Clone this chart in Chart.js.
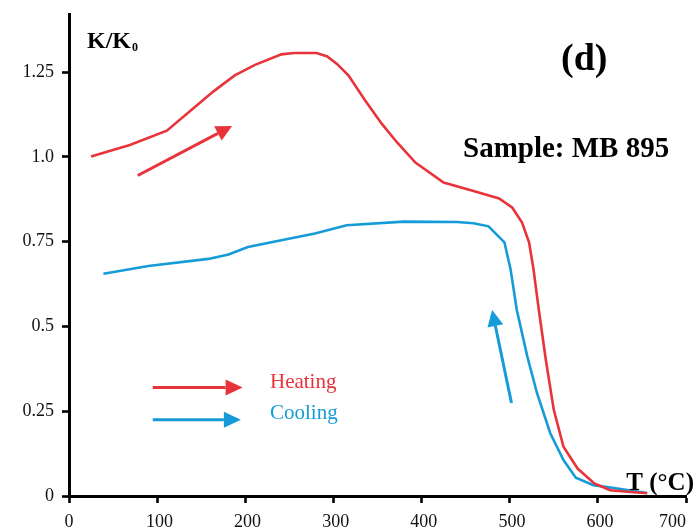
<!DOCTYPE html>
<html>
<head>
<meta charset="utf-8">
<script src="https://cdn.jsdelivr.net/npm/chart.js@4/dist/chart.umd.min.js"></script>
<style>
html,body{margin:0;padding:0;background:#fff;}
#wrap{width:697px;height:529px;}
</style>
</head>
<body>
<div id="wrap"><canvas id="c" width="697" height="529"></canvas></div>
<script>
// ---- data ----
const heatT = [25, 69, 111, 164, 188, 211, 241, 255, 281, 293, 304, 317, 336, 355, 372, 393, 425, 455, 488, 503, 514, 522, 527, 533, 541, 550, 561, 577, 596, 614, 637, 656];
const heatK = [1.001, 1.035, 1.077, 1.193, 1.240, 1.271, 1.302, 1.306, 1.306, 1.296, 1.274, 1.240, 1.166, 1.097, 1.043, 0.983, 0.924, 0.902, 0.877, 0.850, 0.806, 0.747, 0.668, 0.549, 0.401, 0.254, 0.145, 0.081, 0.037, 0.017, 0.012, 0.008];
const coolT = [39, 90, 158, 181, 203, 262, 279, 315, 380, 440, 459, 476, 494, 501, 508, 520, 531, 546, 561, 575, 595, 622, 656];
const coolK = [0.655, 0.678, 0.699, 0.712, 0.734, 0.765, 0.774, 0.798, 0.809, 0.808, 0.804, 0.795, 0.748, 0.668, 0.549, 0.411, 0.303, 0.185, 0.106, 0.054, 0.032, 0.022, 0.009];
const xTicks = [0, 100, 200, 300, 400, 500, 600, 700];
const xTickLabels = ["0", " 100", " 200", " 300", " 400", " 500", " 600", "700      "];
const yTicks = [0, 0.25, 0.5, 0.75, 1.0, 1.25];
const yTickLabels = ["0", "0.25", "0.5", "0.75", "1.0", "1.25"];
const seriesNames = ["Heating", "Cooling"];

const RED = '#e8333a';
const BLUE = '#149bd8';
const SERIF = '"Liberation Serif", "Times New Roman", serif';

const toPts = (xs, ys) => xs.map((x, i) => ({x: x, y: ys[i]}));

function arrow(ctx, x1, y1, x2, y2, color, lw, headLen, headW) {
  const ang = Math.atan2(y2 - y1, x2 - x1);
  const bx = x2 - headLen * Math.cos(ang), by = y2 - headLen * Math.sin(ang);
  ctx.save();
  ctx.strokeStyle = color; ctx.fillStyle = color; ctx.lineWidth = lw;
  ctx.beginPath(); ctx.moveTo(x1, y1); ctx.lineTo(bx, by); ctx.stroke();
  const px = -Math.sin(ang) * headW / 2, py = Math.cos(ang) * headW / 2;
  ctx.beginPath(); ctx.moveTo(x2, y2); ctx.lineTo(bx + px, by + py); ctx.lineTo(bx - px, by - py); ctx.closePath(); ctx.fill();
  ctx.restore();
}

const annot = {
  id: 'annot',
  afterDatasetsDraw(chart) {
    const ctx = chart.ctx;
    const xs = chart.scales.x, ys = chart.scales.y;
    const X = v => xs.getPixelForValue(v), Y = v => ys.getPixelForValue(v);
    // arrows in data coordinates
    arrow(ctx, X(78), Y(0.945), X(185), Y(1.091), RED, 3, 16, 16);
    arrow(ctx, X(502), Y(0.274), X(480), Y(0.548), BLUE, 3, 16, 16);
    arrow(ctx, X(95), Y(0.320), X(197), Y(0.320), RED, 3, 17, 16);
    arrow(ctx, X(95), Y(0.225), X(195), Y(0.225), BLUE, 3, 17, 16);
    ctx.save();
    ctx.textBaseline = 'alphabetic';
    ctx.textAlign = 'left';
    ctx.font = '21px ' + SERIF;
    ctx.fillStyle = RED;
    ctx.fillText(seriesNames[0], X(228), Y(0.335) + 6);
    ctx.fillStyle = BLUE;
    ctx.fillText(seriesNames[1], X(228), Y(0.245) + 6);
    ctx.fillStyle = '#000';
    ctx.font = 'bold 24px ' + SERIF;
    ctx.fillText('K/K', 87, 48);
    const w = ctx.measureText('K/K').width;
    ctx.font = 'bold 12px ' + SERIF;
    ctx.fillText('0', 87 + w + 1, 51);
    ctx.font = 'bold 38px ' + SERIF;
    ctx.fillText('(d)', 561, 70);
    ctx.font = 'bold 29px ' + SERIF;
    ctx.fillText('Sample: MB 895', 463, 157);
    ctx.font = 'bold 25px ' + SERIF;
    ctx.textAlign = 'right';
    ctx.fillText('T (°C)', 694, 490);
    ctx.restore();
  }
};

new Chart(document.getElementById('c'), {
  type: 'scatter',
  data: {
    datasets: [
      {label: seriesNames[0], data: toPts(heatT, heatK), showLine: true, borderColor: RED, borderWidth: 2.6, pointRadius: 0, tension: 0, fill: false},
      {label: seriesNames[1], data: toPts(coolT, coolK), showLine: true, borderColor: BLUE, borderWidth: 2.6, pointRadius: 0, tension: 0, fill: false}
    ]
  },
  options: {
    responsive: false,
    animation: false,
    devicePixelRatio: 1,
    layout: {padding: {top: 14, right: 11, left: 0, bottom: 0}},
    plugins: {legend: {display: false}, tooltip: {enabled: false}},
    scales: {
      x: {
        type: 'linear', min: 0, max: 700,
        afterBuildTicks: s => { s.ticks = xTicks.map(v => ({value: v})); },
        afterFit: s => { s.height = 33; s.paddingLeft = 0; s.paddingRight = 0; },
        grid: {display: true, drawOnChartArea: false, drawTicks: true, tickLength: 7, tickWidth: 2.6, tickColor: '#000'},
        border: {display: true, color: '#000', width: 3},
        ticks: {color: '#111', font: {family: SERIF, size: 18}, padding: 8, maxRotation: 0, autoSkip: false,
          callback: (v) => { const i = xTicks.indexOf(v); return i >= 0 ? xTickLabels[i] : ''; }}
      },
      y: {
        type: 'linear', min: 0, max: 1.421,
        afterBuildTicks: s => { s.ticks = yTicks.map(v => ({value: v})); },
        afterFit: s => { s.width = 69; s.paddingTop = 0; s.paddingBottom = 0; },
        grid: {display: true, drawOnChartArea: false, drawTicks: true, tickLength: 7, tickWidth: 2.6, tickColor: '#000'},
        border: {display: true, color: '#000', width: 3},
        ticks: {color: '#111', font: {family: SERIF, size: 18}, padding: 8, autoSkip: false,
          callback: (v) => { const i = yTicks.indexOf(v); return i >= 0 ? yTickLabels[i] : ''; }}
      }
    }
  },
  plugins: [annot]
});
</script>
</body>
</html>
